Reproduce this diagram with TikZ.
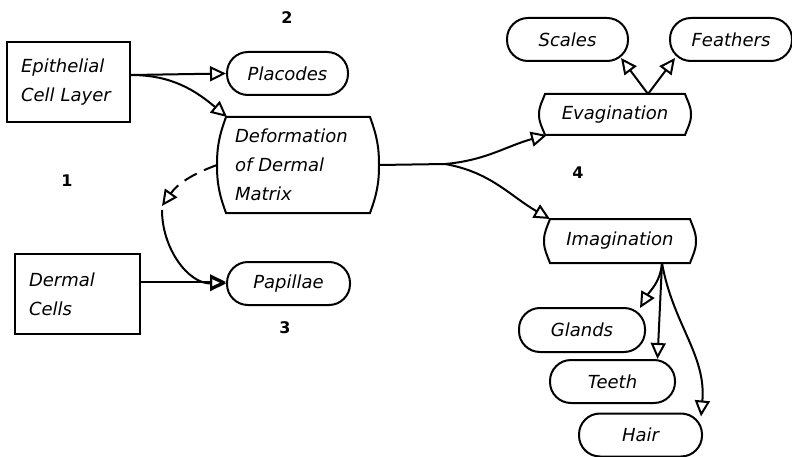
\documentclass[tikz,border=0pt]{standalone}
\usepackage{fontspec}
\setmainfont{DejaVu Sans}
\usetikzlibrary{arrows.meta}
\newcommand\barrel[2]{%
  \draw ([xshift=#2]#1.north west) -- ([xshift=-#2]#1.north east)
    to[out=-70,in=90] (#1.east) to[out=-90,in=70] ([xshift=-#2]#1.south east)
    -- ([xshift=#2]#1.south west) to[out=110,in=-90] (#1.west)
    to[out=90,in=-110] cycle;}
\begin{document}
\begin{tikzpicture}[x=1pt,y=1pt,line width=2pt,
  every node/.style={font=\fontsize{18}{29}\selectfont\itshape},
  boxnode/.style={draw,rectangle,align=left,inner xsep=14pt,inner ysep=4pt},
  pill/.style={draw,rounded corners=21pt,minimum height=43pt},
  barrelnode/.style={align=left},
  arr/.style={-{Triangle[open,length=16pt,width=15pt,line width=2pt]}},
  numlabel/.style={font=\fontsize{16}{18}\selectfont\bfseries}]
\useasboundingbox (0,0) rectangle (792,456);

\node[boxnode,minimum width=123pt,minimum height=80pt,text width=95pt] (epi) at (68.5,374) {Epithelial\\Cell Layer};
\node[pill,minimum width=121pt] (plac) at (287.5,382.5) {Placodes};
\node[barrelnode,minimum width=160pt,minimum height=94pt,text width=126pt,inner xsep=17pt] (def) at (298,291) {Deformation\\of Dermal\\Matrix};
\barrel{def}{9pt}
\node[boxnode,minimum width=125pt,minimum height=80pt,text width=97pt] (derm) at (77.5,162) {Dermal\\Cells};
\node[pill,minimum width=123pt] (pap) at (288.5,172.5) {Papillae};
\node[pill,minimum width=121pt] (scales) at (567.5,416.5) {Scales};
\node[pill,minimum width=122pt] (feath) at (731,416.5) {Feathers};
\node[barrelnode,minimum width=150pt,minimum height=39pt] (evag) at (615,341.5) {Evagination};
\barrel{evag}{6pt}
\node[barrelnode,minimum width=150pt,minimum height=42pt] (imag) at (620,215) {Imagination};
\barrel{imag}{6pt}
\node[pill,minimum width=126pt,minimum height=44pt] (glands) at (582,126) {Glands};
\node[pill,minimum width=125pt] (teeth) at (612.5,74.5) {Teeth};
\node[pill,minimum width=123pt] (hair) at (640.5,21) {Hair};

\node[numlabel] (n2) at (287,438) {2};
\node[numlabel] (n1) at (67,275) {1};
\node[numlabel] (n3) at (285,128) {3};
\node[numlabel] (n4) at (578,283) {4};

\coordinate (e1) at ([yshift=7pt]epi.east);
\draw[arr] (e1) -- (plac.west);
\draw[arr] (e1) to[out=0,in=140] ([xshift=10pt]def.north west);

\coordinate (m) at (162,250);
\draw[arr,dash pattern=on 14pt off 8pt] (def.west) to[out=200,in=55] (m);
\draw[arr] ([yshift=-4pt]m) to[out=-90,in=180] (pap.west);

\coordinate (d1) at ([yshift=12pt]derm.east);
\draw[arr] (d1) -- (d1 -| pap.west);

\coordinate (br) at (445,292);
\draw (def.east) -- (br);
\draw[arr] (br) to[out=5,in=195] ([xshift=8pt]evag.south west);
\draw[arr] (br) to[out=-10,in=150] ([xshift=6pt]imag.north west);

\coordinate (ev1) at ([xshift=33pt]evag.north);
\draw[arr] (ev1) -- ([xshift=-8pt,yshift=4pt]scales.south east);
\draw[arr] (ev1) -- ([xshift=6pt,yshift=4pt]feath.south west);

\coordinate (im1) at ([xshift=42pt]imag.south);
\draw[arr] (im1) to[out=-95,in=60] ([xshift=-6pt,yshift=-1pt]glands.north east);
\draw[arr] (im1) -- ([xshift=45pt]teeth.north);
\draw[arr] (im1) to[out=-80,in=85] ([xshift=-2pt,yshift=-4pt]hair.north east);
\end{tikzpicture}
\end{document}
